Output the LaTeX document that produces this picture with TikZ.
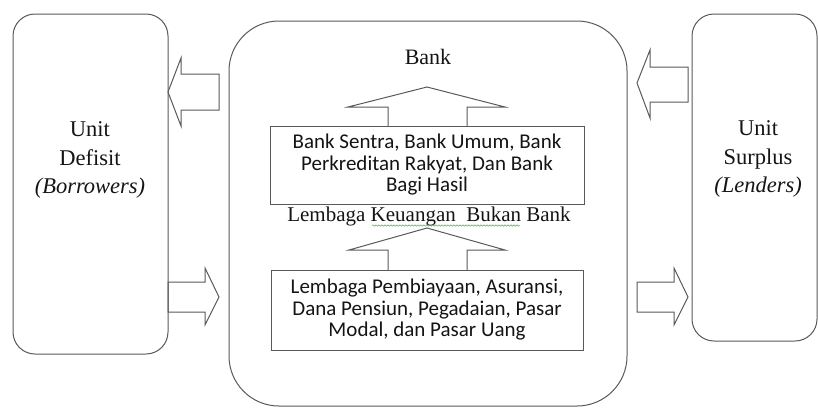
\documentclass[tikz,border=0pt]{standalone}
\usepackage{fontspec}
\setmainfont{Liberation Serif}
\newfontfamily\listfont{Carlito}
\usetikzlibrary{decorations.pathmorphing}

\tikzset{
  outline/.style={draw=black!65, line width=1pt},
  unitbox/.style={outline, rounded corners=22pt},
  listbox/.style={outline, align=center, font=\listfont\fontsize{21}{21.5}\selectfont},
  unitlabel/.style={align=center, font=\fontsize{22.5}{28.5}\selectfont},
}

\begin{document}
\begin{tikzpicture}[x=1pt, y=-1pt, every node/.style={inner sep=0pt, text=black!92}]
\useasboundingbox (0,0) rectangle (818,408);

% Unit Defisit (left)
\node[unitbox, minimum width=155pt, minimum height=340pt] (defisit) at (90.5,184) {};
\node[unitlabel] (defisittext) at (90,160) {Unit\\Defisit\\\textit{(Borrowers)}};

% Unit Surplus (right)
\node[unitbox, minimum width=125pt, minimum height=327pt] (surplus) at (754.5,177.5) {};
\node[unitlabel] (surplustext) at (758,159) {Unit\\Surplus\\\textit{(Lenders)}};

% Bank (middle)
\node[outline, rounded corners=50pt, minimum width=398pt, minimum height=385pt] (bank) at (428,213.5) {};
\node[font=\fontsize{22}{22}\selectfont] (banktitle) at (428,57) {Bank};
\node[listbox, minimum width=314pt, minimum height=78pt] (bankbox) at (427,165)
  {Bank Sentra, Bank Umum, Bank\\Perkreditan Rakyat, Dan Bank\\Bagi Hasil};
\node[font=\fontsize{21}{21}\selectfont] (nonbank) at (429,216) {Lembaga Keuangan\ \ Bukan Bank};
\node[listbox, minimum width=312pt, minimum height=80pt] (nonbankbox) at (427,310)
  {Lembaga Pembiayaan, Asuransi,\\Dana Pensiun, Pegadaian, Pasar\\Modal, dan Pasar Uang};
\draw[green!55!black!70, line width=0.5pt, decorate, decoration={snake, amplitude=0.7pt, segment length=3pt}]
  (372,225.5) -- (520,225.5); % spell-check squiggle

% up arrows inside the bank
\draw[outline, line join=miter] (388,126) -- (388,107) -- (348,107) -- (427,87) -- (505,107) -- (467,107) -- (467,126);
\draw[outline, line join=miter] (388,270) -- (388,250) -- (349,250) -- (427,228) -- (505,250) -- (467,250) -- (467,270);

% flows between units and bank
\draw[outline, line join=miter] (219,74) -- (181,74) -- (181,58) -- (168,92) -- (181,126) -- (181,110) -- (219,110) -- cycle; % to borrowers
\draw[outline, line join=miter] (168,282) -- (205,282) -- (205,268) -- (219,297) -- (205,325) -- (205,312) -- (168,312) -- cycle; % from borrowers
\draw[outline, line join=miter] (688,67) -- (650,67) -- (650,50) -- (637,83) -- (650,118) -- (650,102) -- (688,102) -- cycle; % from lenders
\draw[outline, line join=miter] (637,282) -- (674,282) -- (674,268) -- (688,297) -- (674,325) -- (674,312) -- (637,312) -- cycle; % to lenders

\end{tikzpicture}
\end{document}
